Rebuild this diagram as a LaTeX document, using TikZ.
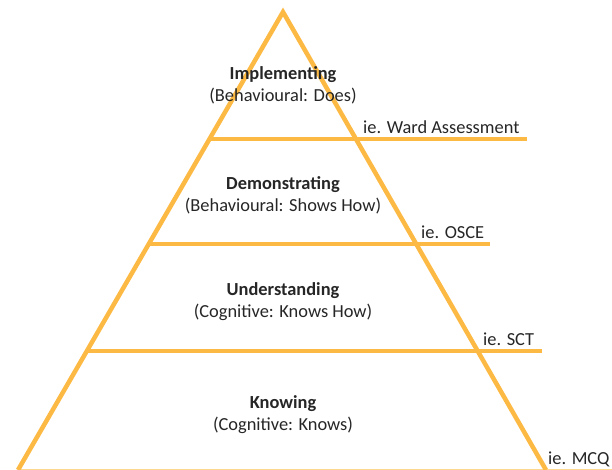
\documentclass[tikz,border=0pt]{standalone}
\usepackage{fontspec}
\setmainfont{Carlito}
\usetikzlibrary{positioning}
\definecolor{pyrorange}{RGB}{252,186,69}
\definecolor{pyrtext}{RGB}{38,38,38}

\begin{document}
\begin{tikzpicture}[x=1pt,y=1pt,node distance=21.5pt,on grid,
    every node/.style={inner sep=0pt,text=pyrtext,font=\fontsize{18.4}{21.5}\selectfont},
    tier/.style={line width=4.5pt,draw=pyrorange},
    level/.style={font=\fontsize{18.4}{21.5}\selectfont\bfseries},
    eg/.style={anchor=west}]
   \useasboundingbox (0,0) rectangle (612,470);

   % pyramid outline
   \coordinate (top) at (283,458);
   \coordinate (bl)  at (18,0);
   \coordinate (br)  at (546,0);
   \coordinate (be)  at (612,0);

   % tier dividers
   \coordinate (l1) at (209.5,331);
   \coordinate (r1) at (527,331);
   \coordinate (l2) at (148.8,226);
   \coordinate (r2) at (490,226);
   \coordinate (l3) at (86.9,119);
   \coordinate (r3) at (542,119);

   \draw[pyrorange!60, line width=2pt] (bl) -- (be);
   \draw[tier] (bl) -- (top) -- (br);
   \path[tier]
    (l1) edge (r1)
    (l2) edge (r2)
    (l3) edge (r3);

   % levels
   \node[level] (impl) at (283,395) {Implementing};
   \node (implsub) [below=of impl] {(Behavioural: Does)};
   \node[level] (demo) at (283,285) {Demonstrating};
   \node (demosub) [below=of demo] {(Behavioural: Shows How)};
   \node[level] (unde) at (283,179) {Understanding};
   \node (undesub) [below=of unde] {(Cognitive: Knows How)};
   \node[level] (know) at (283,66) {Knowing};
   \node (knowsub) [below=of know] {(Cognitive: Knows)};

   % assessment examples
   \node[eg] (egward) at (363,343) {ie. Ward Assessment};
   \node[eg] (egosce) at (421,238) {ie. OSCE};
   \node[eg] (egsct)  at (483,131) {ie. SCT};
   \node[eg] (egmcq)  at (548,11)  {ie. MCQ};
\end{tikzpicture}
\end{document}
